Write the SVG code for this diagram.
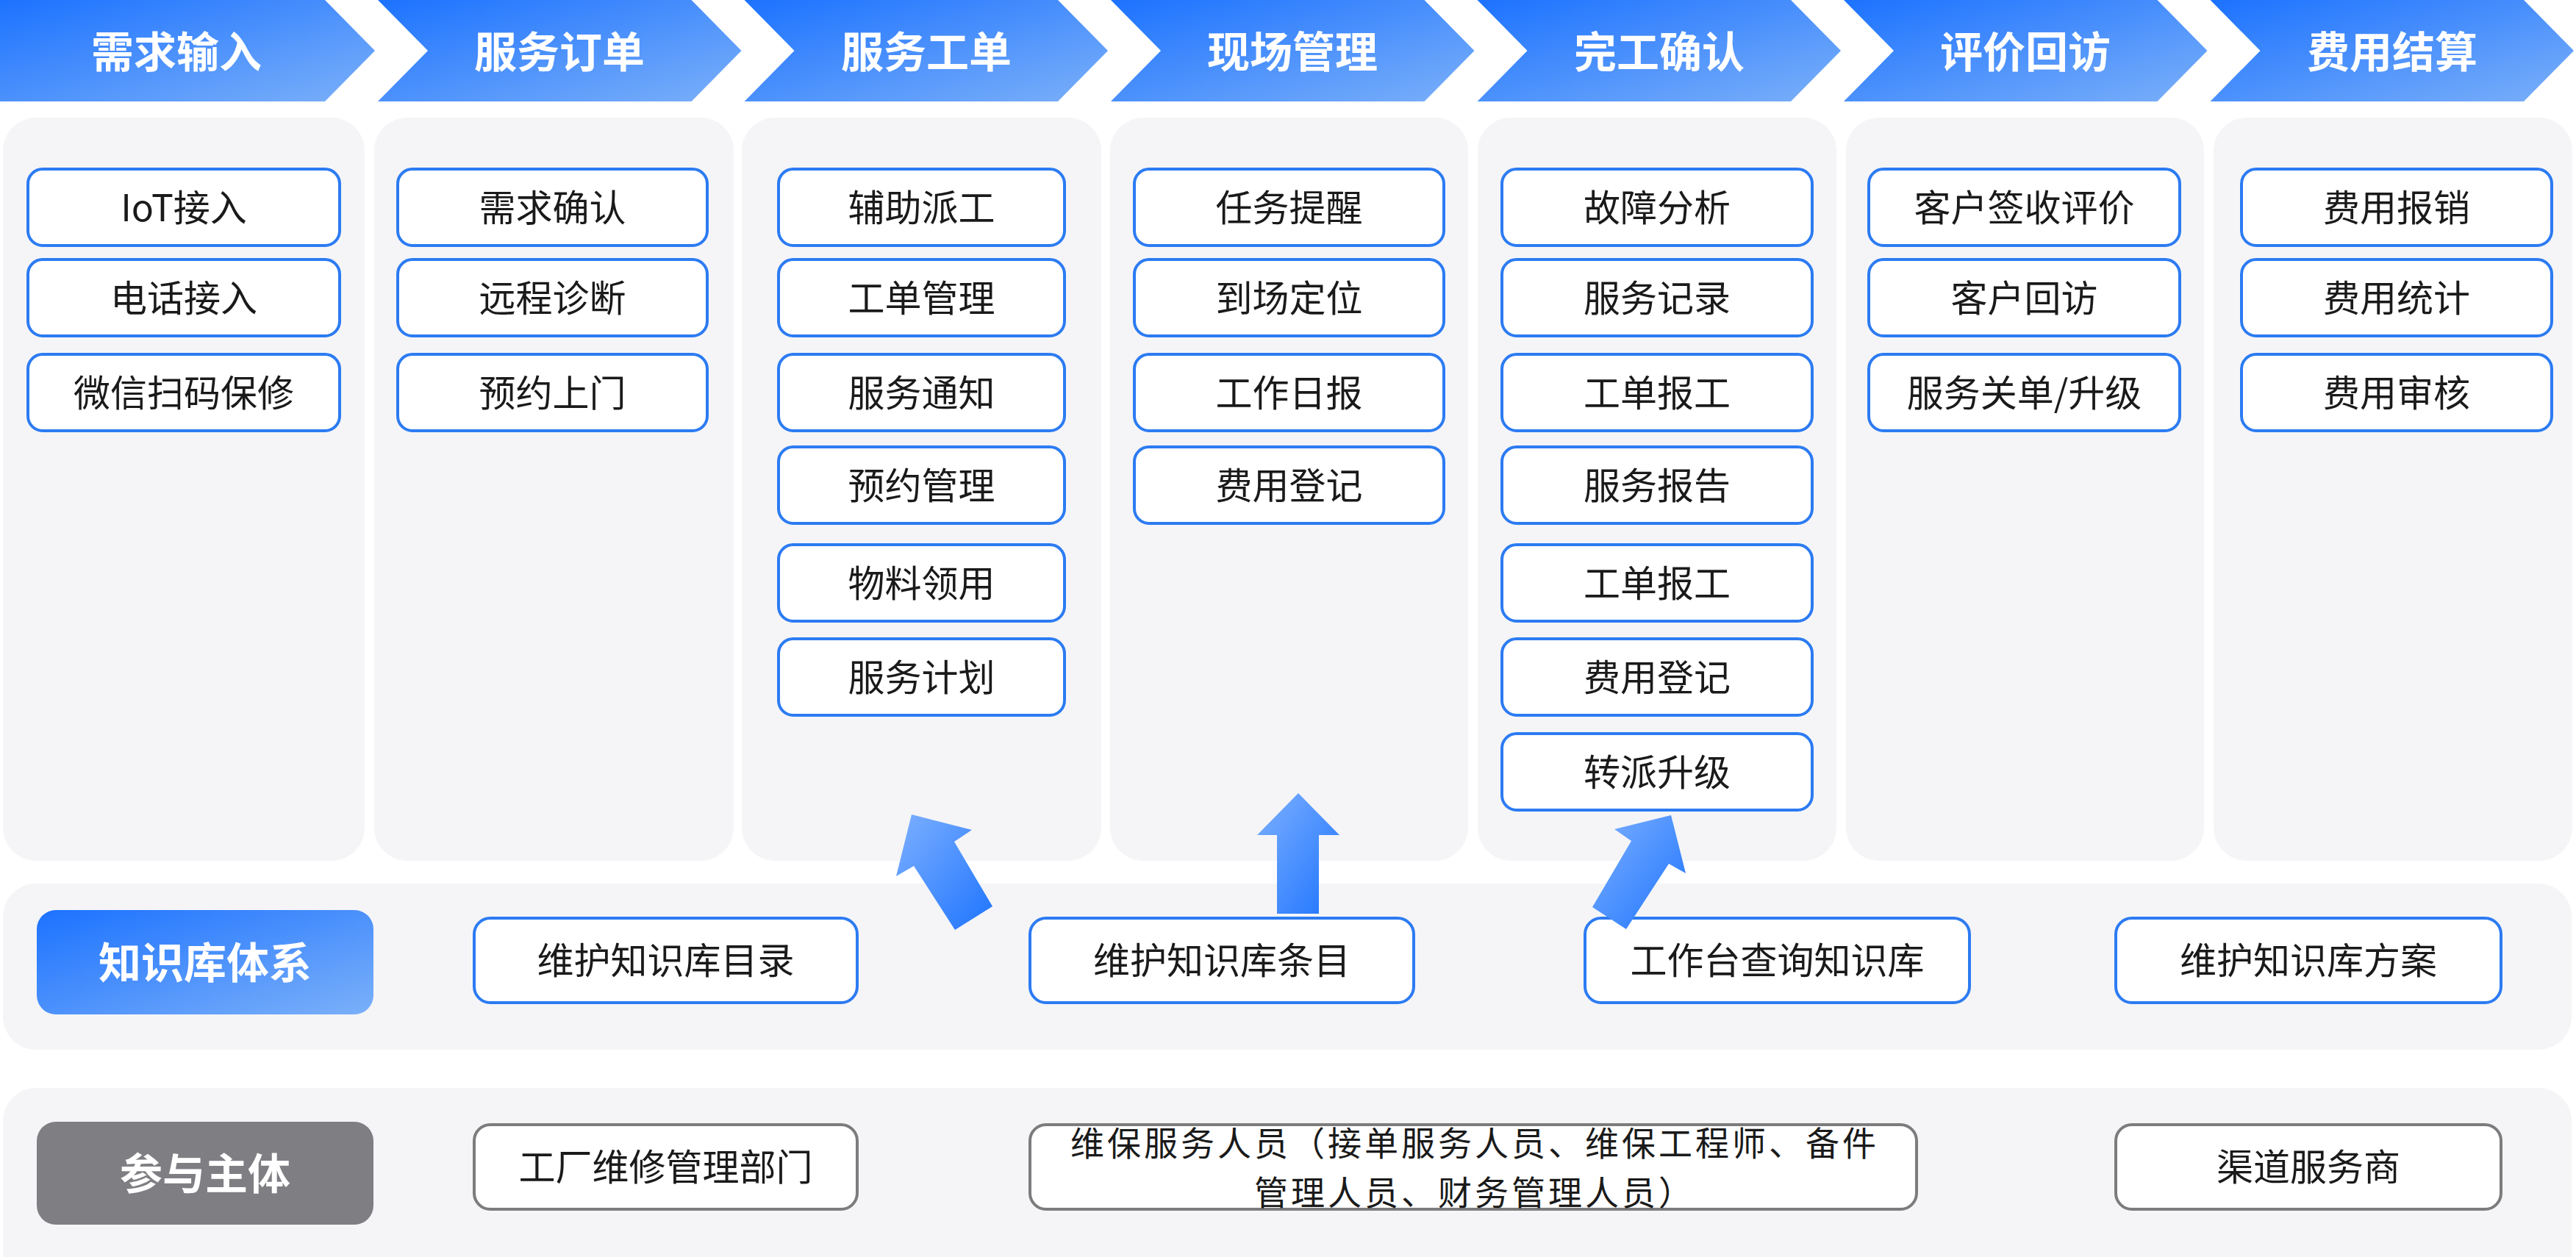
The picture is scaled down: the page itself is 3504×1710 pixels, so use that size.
<svg xmlns="http://www.w3.org/2000/svg" width="3504" height="1710" viewBox="0 0 3504 1710">
<defs>
<linearGradient id="gHead" x1="0" y1="0" x2="1" y2="1">
<stop offset="0" stop-color="#1C72FF"/>
<stop offset="1" stop-color="#7BB0F9"/>
</linearGradient>
<linearGradient id="gArrow" x1="0" y1="0" x2="1" y2="1">
<stop offset="0" stop-color="#7DB0FF"/>
<stop offset="1" stop-color="#1E74FF"/>
</linearGradient>
</defs>
<style>
.panel{fill:#F5F5F7}
.chev{fill:url(#gHead)}
.htxt{font-family:"Noto Sans CJK SC","Noto Sans",sans-serif;font-size:58px;font-weight:700;fill:#FFFFFF;text-anchor:middle}
.box{fill:#FFFFFF;stroke:#2C7BF2;stroke-width:4}
.gbox{fill:#FFFFFF;stroke:#7C7C7C;stroke-width:4}
.txt{font-family:"Noto Sans CJK SC","Noto Sans",sans-serif;font-size:50px;font-weight:400;fill:#1A1A1A;text-anchor:middle}
.txt2{font-family:"Noto Sans CJK SC","Noto Sans",sans-serif;font-size:46px;letter-spacing:4px;font-weight:400;fill:#1A1A1A;text-anchor:middle}
.arrow{fill:url(#gArrow)}
</style>
<rect width="3504" height="1710" fill="#FFFFFF"/>

<g id="header">
<g id="stage-1"><polygon class="chev" points="0,0 442,0 510,69 442,138 0,138"/><text class="htxt" x="240" y="92">需求输入</text></g>
<g id="stage-2"><polygon class="chev" points="514,0 940.5,0 1008.5,69 940.5,138 514,138 582,69"/><text class="htxt" x="761" y="92">服务订单</text></g>
<g id="stage-3"><polygon class="chev" points="1012.5,0 1439,0 1507,69 1439,138 1012.5,138 1080.5,69"/><text class="htxt" x="1260" y="92">服务工单</text></g>
<g id="stage-4"><polygon class="chev" points="1511,0 1937.5,0 2005.5,69 1937.5,138 1511,138 1579,69"/><text class="htxt" x="1758" y="92">现场管理</text></g>
<g id="stage-5"><polygon class="chev" points="2009.5,0 2436,0 2504,69 2436,138 2009.5,138 2077.5,69"/><text class="htxt" x="2257" y="92">完工确认</text></g>
<g id="stage-6"><polygon class="chev" points="2508,0 2934.5,0 3002.5,69 2934.5,138 2508,138 2576,69"/><text class="htxt" x="2755" y="92">评价回访</text></g>
<g id="stage-7"><polygon class="chev" points="3006.5,0 3433,0 3501,69 3433,138 3006.5,138 3074.5,69"/><text class="htxt" x="3254" y="92">费用结算</text></g>
</g>

<g id="panels">
<rect class="panel" x="4" y="160" width="492" height="1011" rx="45"/>
<rect class="panel" x="509" y="160" width="489" height="1011" rx="45"/>
<rect class="panel" x="1009" y="160" width="489" height="1011" rx="45"/>
<rect class="panel" x="1510" y="160" width="487" height="1011" rx="45"/>
<rect class="panel" x="2010" y="160" width="488" height="1011" rx="45"/>
<rect class="panel" x="2511" y="160" width="487" height="1011" rx="45"/>
<rect class="panel" x="3011" y="160" width="488" height="1011" rx="45"/>
<rect class="panel" x="4" y="1202" width="3494" height="226" rx="45"/>
<rect class="panel" x="4" y="1480" width="3494" height="270" rx="45"/>
</g>

<g id="col-1">
<g id="n-iot"><rect class="box" x="38" y="230" width="424" height="104" rx="20"/><text class="txt" x="250" y="301">IoT接入</text></g>
<g id="n-phone"><rect class="box" x="38" y="353" width="424" height="104" rx="20"/><text class="txt" x="250" y="424">电话接入</text></g>
<g id="n-wechat"><rect class="box" x="38" y="482" width="424" height="104" rx="20"/><text class="txt" x="250" y="553">微信扫码保修</text></g>
</g>
<g id="col-2">
<g id="n-confirm"><rect class="box" x="541" y="230" width="421" height="104" rx="20"/><text class="txt" x="751.5" y="301">需求确认</text></g>
<g id="n-remote"><rect class="box" x="541" y="353" width="421" height="104" rx="20"/><text class="txt" x="751.5" y="424">远程诊断</text></g>
<g id="n-visit"><rect class="box" x="541" y="482" width="421" height="104" rx="20"/><text class="txt" x="751.5" y="553">预约上门</text></g>
</g>
<g id="col-3">
<g id="n-dispatch"><rect class="box" x="1059" y="230" width="389" height="104" rx="20"/><text class="txt" x="1253.5" y="301">辅助派工</text></g>
<g id="n-wo"><rect class="box" x="1059" y="353" width="389" height="104" rx="20"/><text class="txt" x="1253.5" y="424">工单管理</text></g>
<g id="n-notify"><rect class="box" x="1059" y="482" width="389" height="104" rx="20"/><text class="txt" x="1253.5" y="553">服务通知</text></g>
<g id="n-appt"><rect class="box" x="1059" y="608" width="389" height="104" rx="20"/><text class="txt" x="1253.5" y="679">预约管理</text></g>
<g id="n-material"><rect class="box" x="1059" y="741" width="389" height="104" rx="20"/><text class="txt" x="1253.5" y="812">物料领用</text></g>
<g id="n-plan"><rect class="box" x="1059" y="869" width="389" height="104" rx="20"/><text class="txt" x="1253.5" y="940">服务计划</text></g>
</g>
<g id="col-4">
<g id="n-remind"><rect class="box" x="1543" y="230" width="421" height="104" rx="20"/><text class="txt" x="1753.5" y="301">任务提醒</text></g>
<g id="n-locate"><rect class="box" x="1543" y="353" width="421" height="104" rx="20"/><text class="txt" x="1753.5" y="424">到场定位</text></g>
<g id="n-daily"><rect class="box" x="1543" y="482" width="421" height="104" rx="20"/><text class="txt" x="1753.5" y="553">工作日报</text></g>
<g id="n-fee1"><rect class="box" x="1543" y="608" width="421" height="104" rx="20"/><text class="txt" x="1753.5" y="679">费用登记</text></g>
</g>
<g id="col-5">
<g id="n-fault"><rect class="box" x="2043" y="230" width="422" height="104" rx="20"/><text class="txt" x="2254" y="301">故障分析</text></g>
<g id="n-record"><rect class="box" x="2043" y="353" width="422" height="104" rx="20"/><text class="txt" x="2254" y="424">服务记录</text></g>
<g id="n-report1"><rect class="box" x="2043" y="482" width="422" height="104" rx="20"/><text class="txt" x="2254" y="553">工单报工</text></g>
<g id="n-sreport"><rect class="box" x="2043" y="608" width="422" height="104" rx="20"/><text class="txt" x="2254" y="679">服务报告</text></g>
<g id="n-report2"><rect class="box" x="2043" y="741" width="422" height="104" rx="20"/><text class="txt" x="2254" y="812">工单报工</text></g>
<g id="n-fee2"><rect class="box" x="2043" y="869" width="422" height="104" rx="20"/><text class="txt" x="2254" y="940">费用登记</text></g>
<g id="n-escalate"><rect class="box" x="2043" y="998" width="422" height="104" rx="20"/><text class="txt" x="2254" y="1069">转派升级</text></g>
</g>
<g id="col-6">
<g id="n-sign"><rect class="box" x="2542" y="230" width="423" height="104" rx="20"/><text class="txt" x="2753.5" y="301">客户签收评价</text></g>
<g id="n-revisit"><rect class="box" x="2542" y="353" width="423" height="104" rx="20"/><text class="txt" x="2753.5" y="424">客户回访</text></g>
<g id="n-close"><rect class="box" x="2542" y="482" width="423" height="104" rx="20"/><text class="txt" x="2753.5" y="553">服务关单/升级</text></g>
</g>
<g id="col-7">
<g id="n-reimb"><rect class="box" x="3049" y="230" width="422" height="104" rx="20"/><text class="txt" x="3260" y="301">费用报销</text></g>
<g id="n-stat"><rect class="box" x="3049" y="353" width="422" height="104" rx="20"/><text class="txt" x="3260" y="424">费用统计</text></g>
<g id="n-audit"><rect class="box" x="3049" y="482" width="422" height="104" rx="20"/><text class="txt" x="3260" y="553">费用审核</text></g>
</g>

<g id="knowledge">
<g id="kb-label"><rect x="50" y="1238" width="458" height="142" rx="26" fill="url(#gHead)"/><text class="htxt" x="279" y="1331">知识库体系</text></g>
<g id="kb-catalog"><rect class="box" x="645" y="1249" width="521" height="115" rx="22"/><text class="txt" x="905.5" y="1325">维护知识库目录</text></g>
<g id="kb-entry"><rect class="box" x="1401" y="1249" width="522" height="115" rx="22"/><text class="txt" x="1662" y="1325">维护知识库条目</text></g>
<g id="kb-query"><rect class="box" x="2156" y="1249" width="523" height="115" rx="22"/><text class="txt" x="2417.5" y="1325">工作台查询知识库</text></g>
<g id="kb-plan"><rect class="box" x="2878" y="1249" width="524" height="115" rx="22"/><text class="txt" x="3140" y="1325">维护知识库方案</text></g>
</g>

<g id="participants">
<g id="pt-label"><rect x="50" y="1526" width="458" height="140" rx="26" fill="#7F7E83"/><text class="htxt" x="279" y="1618">参与主体</text></g>
<g id="pt-factory"><rect class="gbox" x="645" y="1530" width="521" height="115" rx="22"/><text class="txt" x="905.5" y="1606">工厂维修管理部门</text></g>
<g id="pt-service"><rect class="gbox" x="1401" y="1530" width="1206" height="115" rx="22"/><text class="txt2"><tspan x="2006" y="1572">维保服务人员（接单服务人员、维保工程师、备件</tspan><tspan x="2006" y="1639">管理人员、财务管理人员）</tspan></text></g>
<g id="pt-channel"><rect class="gbox" x="2878" y="1530" width="524" height="115" rx="22"/><text class="txt" x="3140" y="1606">渠道服务商</text></g>
</g>

<g id="connectors">
<polygon class="arrow" points="1240,1108 1322,1129 1298,1145 1350,1233 1299,1265 1243,1178 1219,1192"/>
<polygon class="arrow" points="1766,1079 1822,1136 1794,1136 1794,1243 1737,1243 1737,1136 1710,1136"/>
<polygon class="arrow" points="2273,1109 2293,1188 2270,1175 2212,1264 2166,1234 2219,1144 2196,1128"/>
</g>
</svg>
